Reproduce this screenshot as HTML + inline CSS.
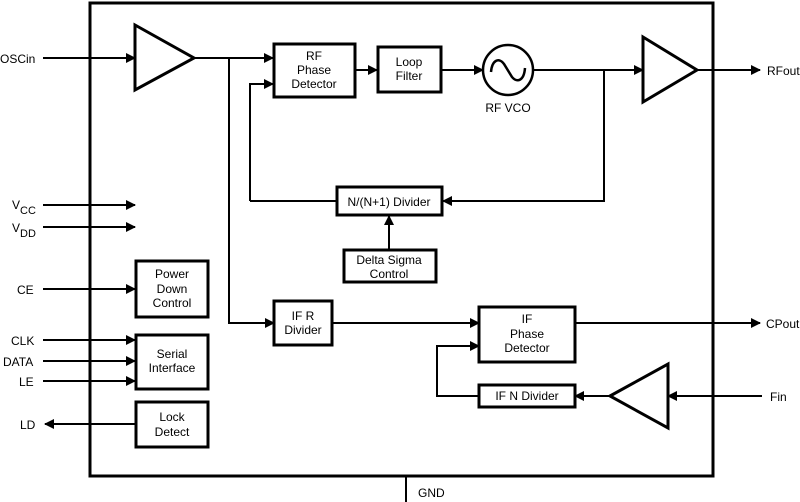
<!DOCTYPE html>
<html><head><meta charset="utf-8"><style>
html,body{margin:0;padding:0;background:#fff;}
svg{display:block;}
text{font-family:"Liberation Sans",Arial,sans-serif;font-size:12px;fill:#000;}
</style></head><body>
<svg width="800" height="502" viewBox="0 0 800 502" xmlns="http://www.w3.org/2000/svg">
<defs>
<marker id="a" markerWidth="10" markerHeight="10" refX="9" refY="5" orient="auto" markerUnits="userSpaceOnUse">
<path d="M0,0 L10,5 L0,10 z" fill="#000"/></marker>
</defs>
<g stroke="#000" fill="none">
<!-- outer box -->
<rect x="90" y="3" width="623" height="473" stroke-width="3"/>
<line x1="406" y1="476" x2="406" y2="502" stroke-width="2"/>
<!-- input arrows -->
<g stroke-width="2" marker-end="url(#a)">
<line x1="43" y1="58" x2="135" y2="58"/>
<line x1="43" y1="205" x2="135" y2="205"/>
<line x1="43" y1="227" x2="135" y2="227"/>
<line x1="43" y1="289" x2="135" y2="289"/>
<line x1="43" y1="340" x2="135" y2="340"/>
<line x1="43" y1="361" x2="135" y2="361"/>
<line x1="43" y1="381" x2="135" y2="381"/>
<line x1="135" y1="424" x2="45" y2="424"/>
<line x1="194" y1="58" x2="273" y2="58"/>
<polyline points="250,201 250,84 273,84"/>
<line x1="355" y1="70" x2="377" y2="70"/>
<line x1="441" y1="70" x2="483" y2="70"/>
<line x1="533" y1="70" x2="643" y2="70"/>
<polyline points="604,70 604,201 443,201"/>
<line x1="389" y1="249" x2="389" y2="216"/>
<line x1="697" y1="70" x2="760" y2="70"/>
<polyline points="229,58 229,323 274,323"/>
<line x1="333" y1="323" x2="479" y2="323"/>
<line x1="575" y1="323" x2="760" y2="323"/>
<polyline points="479,396 437,396 437,346 479,346"/>
<line x1="610" y1="396" x2="575" y2="396"/>
<line x1="762" y1="396" x2="668" y2="396"/>
</g>
<line x1="250" y1="201" x2="336" y2="201" stroke-width="2"/>
<!-- amps -->
<polygon points="135,25 135,90 194,58" stroke-width="3" fill="#fff"/>
<polygon points="643,37 643,102 697,70" stroke-width="3" fill="#fff"/>
<polygon points="610,396 668,364 668,428" stroke-width="3" fill="#fff"/>
<!-- VCO -->
<circle cx="508" cy="70" r="25" stroke-width="2.5" fill="#fff"/>
<path d="M491,72 C492,60 499,57 504,64 L512,77 C517,83 524,81 525,68" stroke-width="2.5"/>
<!-- boxes -->
<g stroke-width="3" fill="#fff">
<rect x="274" y="44" width="81" height="53"/>
<rect x="378" y="47" width="63" height="45"/>
<rect x="337" y="187" width="105" height="28"/>
<rect x="344" y="250" width="92" height="32"/>
<rect x="136" y="261" width="72" height="56"/>
<rect x="136" y="335" width="72" height="54"/>
<rect x="136" y="402" width="72" height="45"/>
<rect x="274" y="301" width="58" height="44"/>
<rect x="479" y="307" width="96" height="55"/>
<rect x="479" y="385" width="96" height="22"/>
</g>
</g>
<g text-anchor="middle">
<text x="314" y="60">RF</text><text x="314" y="74">Phase</text><text x="314" y="88">Detector</text>
<text x="409" y="66">Loop</text><text x="409" y="80">Filter</text>
<text x="508" y="112">RF VCO</text>
<text x="389" y="206">N/(N+1) Divider</text>
<text x="389" y="264">Delta Sigma</text><text x="389" y="278">Control</text>
<text x="172" y="278">Power</text><text x="172" y="293">Down</text><text x="172" y="307">Control</text>
<text x="172" y="358">Serial</text><text x="172" y="372">Interface</text>
<text x="172" y="421">Lock</text><text x="172" y="436">Detect</text>
<text x="303" y="320">IF R</text><text x="303" y="334">Divider</text>
<text x="527" y="323">IF</text><text x="527" y="338">Phase</text><text x="527" y="352">Detector</text>
<text x="527" y="400">IF N Divider</text>
</g>
<text x="0" y="63">OSCin</text>
<text x="12" y="209">V</text><text x="20" y="214" style="font-size:11px">CC</text>
<text x="12" y="232">V</text><text x="20" y="237" style="font-size:11px">DD</text>
<text x="17" y="294">CE</text>
<text x="11" y="345">CLK</text>
<text x="3" y="366">DATA</text>
<text x="19" y="386">LE</text>
<text x="20" y="429">LD</text>
<text x="767" y="75">RFout</text>
<text x="766" y="328">CPout</text>
<text x="770" y="401">Fin</text>
<text x="418" y="497">GND</text>
</svg>
</body></html>
